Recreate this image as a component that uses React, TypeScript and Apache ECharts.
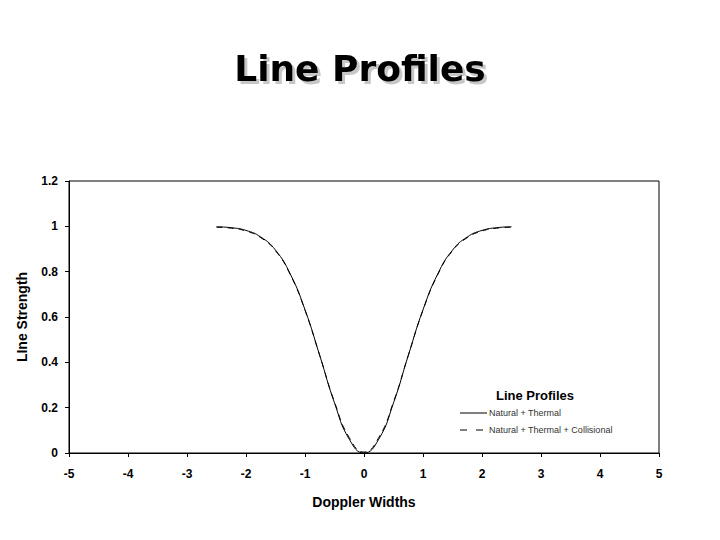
import React, { useEffect, useRef } from 'react';
import * as echarts from 'echarts';

// Doppler widths sampled along the curve
const dopplerWidths = [
  -2.5, -2.25, -2, -1.75, -1.5, -1.25, -1, -0.75, -0.5, -0.25, 0,
  0.25, 0.5, 0.75, 1, 1.25, 1.5, 1.75, 2, 2.25, 2.5,
];
const naturalThermal = [
  0.998, 0.994, 0.982, 0.953, 0.895, 0.79, 0.632, 0.43, 0.221, 0.061, 0,
  0.061, 0.221, 0.43, 0.632, 0.79, 0.895, 0.953, 0.982, 0.994, 0.998,
];
const naturalThermalCollisional = [
  0.996, 0.992, 0.979, 0.95, 0.892, 0.787, 0.63, 0.43, 0.225, 0.068, 0.004,
  0.068, 0.225, 0.43, 0.63, 0.787, 0.892, 0.95, 0.979, 0.992, 0.996,
];
const seriesNames = ['Natural + Thermal', 'Natural + Thermal + Collisional'];

const labelFont = { fontFamily: 'Liberation Sans', fontWeight: 'bold' as const, color: '#000' };

const App: React.FC = () => {
  const chartRef = useRef<HTMLDivElement>(null);

  useEffect(() => {
    if (!chartRef.current) return;
    const chart = echarts.init(chartRef.current, undefined, { renderer: 'svg' });

    const toPairs = (ys: number[]) => dopplerWidths.map((x, i) => [x, ys[i]]);

    // legend drawn by hand so the swatches are plain solid / dashed strokes
    const legendItems = seriesNames.map((name, i) => {
      const y = 413 + i * 17;
      return {
        type: 'group',
        children: [
          {
            type: 'line',
            shape: { x1: 460, y1: y, x2: 487, y2: y },
            style: { stroke: '#000', lineWidth: 1, lineDash: i === 0 ? null : [7, 9] },
          },
          {
            type: 'text',
            x: 489,
            y,
            style: {
              text: name,
              fontFamily: 'Liberation Sans',
              fontSize: 9,
              fill: '#333',
              verticalAlign: 'middle',
            },
          },
        ],
      };
    });

    const option = {
      animation: false,
      backgroundColor: '#ffffff',
      title: {
        text: 'Line Profiles',
        left: 'center',
        top: 45,
        textStyle: {
          fontFamily: 'DejaVu Sans',
          fontWeight: 'bold',
          fontSize: 36,
          color: '#000',
          textShadowColor: 'rgba(0,0,0,0.22)',
          textShadowOffsetX: 3,
          textShadowOffsetY: 3,
          textShadowBlur: 1,
        },
      },
      grid: {
        left: 69,
        right: 61,
        top: 181,
        bottom: 87,
        show: true,
        borderColor: '#000',
        borderWidth: 1,
      },
      xAxis: {
        type: 'value',
        min: -5,
        max: 5,
        interval: 1,
        name: 'Doppler Widths',
        nameLocation: 'middle',
        nameGap: 42,
        nameTextStyle: { ...labelFont, fontSize: 14 },
        axisLine: { onZero: false, lineStyle: { color: '#000', width: 1 } },
        axisTick: { show: true, inside: false, length: 4, lineStyle: { color: '#000' } },
        axisLabel: { ...labelFont, fontSize: 12, margin: 15 },
        splitLine: { show: false },
      },
      yAxis: {
        type: 'value',
        min: 0,
        max: 1.2,
        interval: 0.2,
        name: 'LIne Strength',
        nameLocation: 'middle',
        nameGap: 40,
        nameTextStyle: { ...labelFont, fontSize: 14 },
        axisLine: { show: true, onZero: false, lineStyle: { color: '#000', width: 1 } },
        axisTick: { show: true, inside: false, length: 4, lineStyle: { color: '#000' } },
        axisLabel: { ...labelFont, fontSize: 12, margin: 11 },
        splitLine: { show: false },
      },
      series: [
        {
          name: seriesNames[0],
          type: 'line',
          data: toPairs(naturalThermal),
          smooth: true,
          showSymbol: false,
          symbol: 'none',
          lineStyle: { color: '#000', width: 1, type: 'solid' },
        },
        {
          name: seriesNames[1],
          type: 'line',
          data: toPairs(naturalThermalCollisional),
          smooth: true,
          showSymbol: false,
          symbol: 'none',
          lineStyle: { color: '#000', width: 1, type: [6, 5] },
        },
      ],
      graphic: [
        {
          type: 'text',
          x: 535,
          y: 395,
          style: {
            text: 'Line Profiles',
            fontFamily: 'Liberation Sans',
            fontWeight: 'bold',
            fontSize: 13,
            fill: '#000',
            align: 'center',
            verticalAlign: 'middle',
          },
        },
        ...legendItems,
      ],
    };

    chart.setOption(option);

    return () => {
      chart.dispose();
    };
  }, []);

  return (
    <div
      ref={chartRef}
      style={{ position: 'absolute', left: 0, top: 0, width: '720px', height: '540px' }}
    ></div>
  );
};

export default App;
